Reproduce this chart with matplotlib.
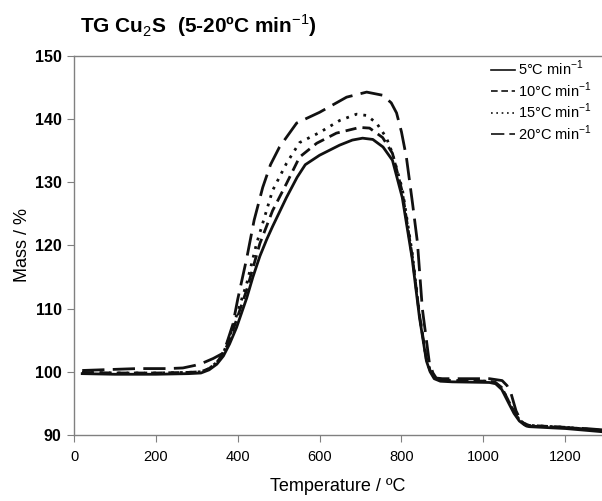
import matplotlib
matplotlib.use("Agg")
import matplotlib.pyplot as plt

plt.rcParams['font.family'] = ['Liberation Sans', 'DejaVu Sans']
plt.rcParams['mathtext.fontset'] = 'custom'
plt.rcParams['mathtext.rm'] = 'Liberation Sans'
plt.rcParams['mathtext.bf'] = 'Liberation Sans:bold'

# TG curves (temperature in °C, mass in %)
t_5 = [20, 100, 200, 280, 310, 330, 349, 365, 380, 397, 422, 437, 454, 471, 485, 519, 545, 565, 600,
       649, 680, 705, 730, 755, 778, 802, 826, 844, 861, 870, 880, 895, 924, 1015, 1030, 1045,
       1063, 1075, 1088, 1100, 1112, 1202, 1290]
m_5 = [99.7, 99.6, 99.6, 99.7, 99.8, 100.3, 101.2, 102.5, 104.4, 107.0, 111.7, 115.0, 118.3, 121.0, 123.0, 127.6, 130.8, 132.8, 134.3,
       135.9, 136.7, 137.0, 136.8, 135.6, 133.5, 127.6, 118.0, 108.6, 101.7, 100.0, 98.9, 98.5, 98.4, 98.3, 98.1, 97.2,
       94.9, 93.4, 92.2, 91.6, 91.3, 91.0, 90.5]

t_10 = [20, 100, 200, 280, 310, 330, 349, 365, 380, 400, 422, 454, 485, 519, 551, 593, 641, 698, 722, 754,
        778, 802, 827, 844, 861, 870, 880, 895, 924, 1015, 1030, 1045, 1063, 1075, 1088, 1100, 1112, 1200, 1290]
m_10 = [99.9, 99.8, 99.8, 99.9, 100.0, 100.5, 101.5, 102.9, 105.0, 108.8, 113.0, 120.3, 125.5, 129.8, 134.0, 136.2, 137.8, 138.7, 138.6, 137.1,
        134.6, 128.5, 118.0, 109.0, 102.0, 100.2, 99.2, 98.8, 98.6, 98.5, 98.3, 97.5, 95.2, 93.7, 92.4, 91.8, 91.5, 91.2, 90.7]

t_15 = [20, 100, 200, 280, 310, 330, 349, 365, 380, 400, 422, 446, 485, 519, 551, 600, 649, 690, 715, 739,
        763, 778, 802, 827, 844, 861, 870, 880, 895, 924, 1015, 1030, 1045, 1063, 1075, 1088, 1100, 1112, 1200, 1290]
m_15 = [99.9, 99.8, 99.8, 99.9, 100.0, 100.5, 101.5, 103.0, 105.5, 109.5, 114.0, 120.3, 128.7, 133.0, 136.3, 137.9, 139.8, 140.8, 140.6, 139.4,
        137.1, 134.6, 129.0, 118.5, 109.0, 102.0, 100.2, 99.1, 98.7, 98.6, 98.5, 98.3, 97.5, 95.2, 93.7, 92.4, 91.8, 91.5, 91.2, 90.7]

t_20 = [20, 154, 230, 266, 295, 315, 340, 363, 373, 388, 400, 422, 440, 461, 480, 502, 544, 600, 666, 715, 754, 775, 788,
        800, 812, 827, 839, 851, 868, 877, 885, 900, 959, 1015, 1046, 1058, 1068, 1080, 1092, 1105, 1154, 1251, 1290]
m_20 = [100.2, 100.5, 100.5, 100.6, 101.0, 101.4, 102.1, 102.9, 104.5, 107.5, 111.5, 118.0, 124.0, 129.2, 132.8, 135.6, 139.4, 141.1, 143.5, 144.3, 143.8, 142.6, 141.0,
        138.0, 134.0, 126.7, 120.5, 110.0, 101.5, 99.8, 99.0, 98.9, 98.9, 98.9, 98.6, 97.8, 96.5, 93.8, 92.2, 91.4, 91.3, 91.0, 90.8]

labels = ['5°C min$^{-1}$', '10°C min$^{-1}$', '15°C min$^{-1}$', '20°C min$^{-1}$']

fig = plt.figure(figsize=(6.02, 5.01), dpi=100)
ax = fig.add_axes([0.123, 0.132, 0.877, 0.756])

ink = '#111111'
ax.plot(t_5, m_5, color=ink, lw=2.0, ls='-', label=labels[0])
ax.plot(t_10, m_10, color=ink, lw=2.0, ls=(0, (4, 2.2)), label=labels[1])
ax.plot(t_15, m_15, color=ink, lw=2.0, ls=(0, (1, 2.2)), label=labels[2])
ax.plot(t_20, m_20, color=ink, lw=2.0, ls=(0, (8, 3)), label=labels[3])

ax.set_xlim(0, 1290)
ax.set_ylim(90, 150)
ax.set_xticks(range(0, 1201, 200))
ax.set_yticks(range(90, 151, 10))

for side in ['left', 'bottom', 'top']:
    ax.spines[side].set_color('#808080')
    ax.spines[side].set_linewidth(1.0)
ax.spines['right'].set_visible(False)
ax.tick_params(direction='out', length=5, color='#808080')
ax.tick_params(axis='x', labelsize=10.5, pad=6)
ax.tick_params(axis='y', labelsize=11.5, pad=4)
for lab in ax.get_yticklabels():
    lab.set_fontweight('bold')

ax.set_xlabel('Temperature / ºC', fontsize=13, labelpad=10)
ax.set_ylabel('Mass / %', fontsize=13, labelpad=3)

leg = ax.legend(loc='upper right', bbox_to_anchor=(1.0, 1.02), borderaxespad=0.3, frameon=False,
                fontsize=10.5, handlelength=1.6, handletextpad=0.25, labelspacing=0.15)
for h in leg.get_lines():
    h.set_linewidth(1.2)

fig.text(0.133, 0.948, 'TG Cu$_2$S  (5-20ºC min$^{-1}$)', fontsize=15,
         fontweight='bold', ha='left', va='center')

fig.savefig('out.png', dpi=100)
